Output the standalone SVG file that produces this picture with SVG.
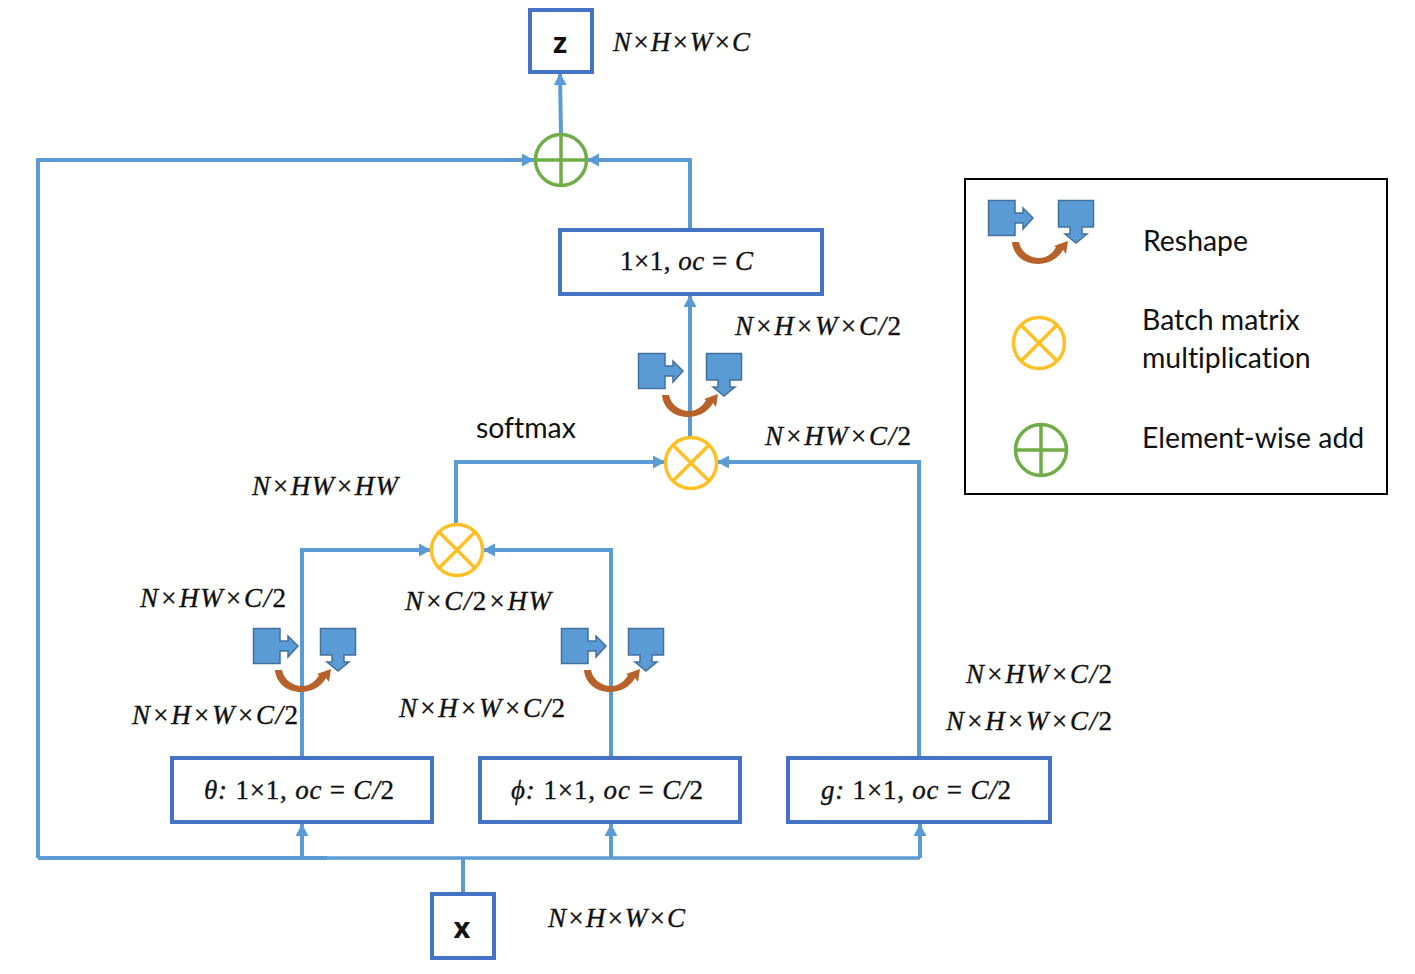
<svg xmlns="http://www.w3.org/2000/svg" width="1415" height="974" viewBox="0 0 1415 974">
<style>
.box{fill:#fff;stroke:#4472c4;stroke-width:4}
.line{fill:none;stroke:#5b9bd5;stroke-width:4}
.m{font-family:"Liberation Serif",serif;font-style:italic;font-size:27px;fill:#111;stroke:#111;stroke-width:.35}
.u{font-style:normal}
.s{font-family:Lato,"Liberation Sans",sans-serif;font-size:28.4px;fill:#111;font-variant-ligatures:none}
.b{font-family:"Open Sans","Liberation Sans",sans-serif;font-weight:700;font-size:29px;fill:#111;text-anchor:middle}
.mul{fill:#fff;stroke:#ffc026;stroke-width:3.5}
.add{fill:#fff;stroke:#70ad47;stroke-width:3.5}
.sh{fill:#5b9bd5;stroke:#41719c;stroke-width:1.5}
</style>
<defs>
<marker id="a" markerUnits="userSpaceOnUse" markerWidth="14" markerHeight="14" refX="12" refY="6.5" orient="auto"><path d="M0 0L12 6.5L0 13z" fill="#5b9bd5"/></marker>
<path id="rL" class="sh" d="M988.5 200.500H1015V213H1023V208L1033 218L1023 229V223H1015V235.500H988.500z"/>
<path id="rR" class="sh" d="M1058.500 200.500H1093.500V227H1082V234H1087L1076 243L1065 234H1070V227H1058.500z"/>
<path id="rC" d="M1012 242H1019C1021 252 1030 258 1039 258C1047 258 1053 253 1056 247L1054 246L1068 241L1066 254L1063 250C1058 259 1048 264 1038 264C1024 264 1013 255 1012 242z" fill="#b8622b"/>
<g id="mu"><circle class="mul" r="25.5"/><path d="M-18-18L18 18M18-18L-18 18" fill="none" stroke="#ffc026" stroke-width="3.5"/></g>
<g id="ad"><circle class="add" r="25.5"/><path d="M-25.5 0H25.5M0-25.5V25.5" fill="none" stroke="#70ad47" stroke-width="3.5"/></g>
</defs>
<rect width="1415" height="974" fill="#fff"/>
<g id="connectors">
<path class="line" d="M463 893V858"/>
<path class="line" d="M38 858H327"/>
<path class="line" style="stroke-width:3.4" d="M327 858H920"/>
<path class="line" d="M38 858V160H534" marker-end="url(#a)"/>
<path class="line" d="M302 858V824" marker-end="url(#a)"/>
<path class="line" d="M611 858V824" marker-end="url(#a)"/>
<path class="line" d="M920 858V824" marker-end="url(#a)"/>
<path class="line" d="M302 757V550H431" marker-end="url(#a)"/>
<path class="line" d="M611 757V550H483" marker-end="url(#a)"/>
<path class="line" d="M919 757V462H717" marker-end="url(#a)"/>
<path class="line" d="M456 524V462H665" marker-end="url(#a)"/>
<path class="line" d="M690 436V295" marker-end="url(#a)"/>
<path class="line" d="M690 229V160H587" marker-end="url(#a)"/>
<path class="line" d="M561 134L560 73" marker-end="url(#a)"/>
</g>
<g id="reshape-1"><use href="#rL" x="-735" y="428"/><use href="#rR" x="-738" y="428"/><use href="#rC" x="-737" y="428"/></g>
<g id="reshape-2"><use href="#rL" x="-427" y="428"/><use href="#rR" x="-430" y="428"/><use href="#rC" x="-428" y="428"/></g>
<g id="reshape-3"><use href="#rL" x="-350" y="153"/><use href="#rR" x="-352" y="153"/><use href="#rC" x="-350" y="153"/></g>
<g id="node-z"><rect class="box" x="530" y="10" width="62" height="62"/><text class="b" x="560" y="53">z</text></g>
<g id="node-x"><rect class="box" x="432" y="894" width="62" height="64"/><text class="b" x="462" y="938">x</text></g>
<g id="node-add"><use href="#ad" x="561" y="160"/></g>
<g id="node-mul-top"><use href="#mu" x="691" y="463"/></g>
<g id="node-mul-bottom"><use href="#mu" x="457" y="550"/></g>
<g id="node-oc"><rect class="box" x="560" y="230" width="262" height="64"/><text class="m" x="620" y="270" textLength="133"><tspan class="u">1×1,</tspan> oc <tspan class="u">=</tspan> C</text></g>
<g id="node-theta"><rect class="box" x="172" y="758" width="260" height="64"/><text class="m" x="204" y="799" textLength="190">θ: <tspan class="u">1×1,</tspan> oc <tspan class="u">=</tspan> C/<tspan class="u">2</tspan></text></g>
<g id="node-phi"><rect class="box" x="480" y="758" width="260" height="64"/><text class="m" x="511" y="799" textLength="192">ϕ: <tspan class="u">1×1,</tspan> oc <tspan class="u">=</tspan> C/<tspan class="u">2</tspan></text></g>
<g id="node-g"><rect class="box" x="788" y="758" width="262" height="64"/><text class="m" x="821" y="799" textLength="190">g: <tspan class="u">1×1,</tspan> oc <tspan class="u">=</tspan> C/<tspan class="u">2</tspan></text></g>
<g id="labels">
<text class="m" x="613" y="51" textLength="137">N×H×W×C</text>
<text class="m" x="735" y="335" textLength="166">N×H×W×C/<tspan class="u">2</tspan></text>
<text class="m" x="765" y="445" textLength="146">N×HW×C/<tspan class="u">2</tspan></text>
<text class="s" x="476" y="438">softmax</text>
<text class="m" x="252" y="495" textLength="146">N×HW×HW</text>
<text class="m" x="140" y="607" textLength="146">N×HW×C/<tspan class="u">2</tspan></text>
<text class="m" x="405" y="610" textLength="146">N×C/<tspan class="u">2</tspan>×HW</text>
<text class="m" x="132" y="724" textLength="166">N×H×W×C/<tspan class="u">2</tspan></text>
<text class="m" x="399" y="717" textLength="166">N×H×W×C/<tspan class="u">2</tspan></text>
<text class="m" x="966" y="683" textLength="146">N×HW×C/<tspan class="u">2</tspan></text>
<text class="m" x="946" y="730" textLength="166">N×H×W×C/<tspan class="u">2</tspan></text>
<text class="m" x="548" y="927" textLength="137">N×H×W×C</text>
</g>
<g id="legend">
<rect x="965" y="179" width="422" height="315" fill="none" stroke="#000" stroke-width="2"/>
<use href="#rL"/><use href="#rR"/><use href="#rC"/>
<use href="#mu" x="1039" y="343"/>
<use href="#ad" x="1041" y="450"/>
<text class="s" x="1143" y="251">Reshape</text>
<text class="s" x="1142" y="330">Batch matrix</text>
<text class="s" x="1142" y="368">multiplication</text>
<text class="s" x="1142" y="448">Element-wise add</text>
</g>
</svg>
